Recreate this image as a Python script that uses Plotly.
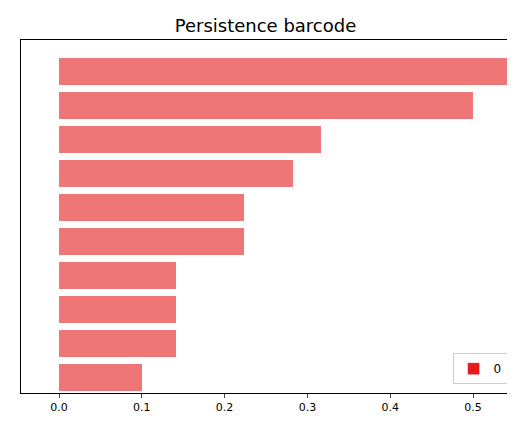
import plotly.graph_objects as go

births = [0, 0, 0, 0, 0, 0, 0, 0, 0, 0]
deaths = [0.1, 0.141, 0.141, 0.141, 0.224, 0.224, 0.283, 0.316, 0.5, 0.56]
positions = list(range(len(deaths)))
xticks = [0.0, 0.1, 0.2, 0.3, 0.4, 0.5]

fig = go.Figure()
fig.add_trace(go.Bar(
    x=[d - b for b, d in zip(births, deaths)], base=births, y=positions,
    orientation="h", width=0.8, marker=dict(color="rgba(228,26,28,0.6)", line_width=0),
    showlegend=False, hoverinfo="skip"))
fig.add_trace(go.Bar(x=[None], y=[None], orientation="h", name="0",
                     marker=dict(color="#E41A1C"), showlegend=True))
fig.update_layout(
    width=515, height=437, plot_bgcolor="white", paper_bgcolor="white",
    margin=dict(l=13, r=8, t=32, b=52, autoexpand=False),
    font=dict(family="DejaVu Sans", size=11, color="black"),
    title=dict(text="Persistence barcode", x=0.5, xanchor="center", y=0.96, yanchor="middle",
               font=dict(size=18)),
    bargap=0,
    xaxis=dict(range=[-0.0459, 0.5507], tickvals=xticks, tickformat=".1f", ticks="outside",
               ticklen=4, showgrid=False, zeroline=False, showline=True, linecolor="black",
               mirror=True, automargin=False),
    yaxis=dict(range=[-0.45, 9.92], showticklabels=False, showgrid=False, zeroline=False,
               showline=True, linecolor="black", mirror=True, automargin=False),
    legend=dict(x=0.985, y=0.025, xanchor="right", yanchor="bottom", bordercolor="#ccc",
                borderwidth=1, bgcolor="white", font=dict(size=12)),
)
fig.write_html("out.html")
